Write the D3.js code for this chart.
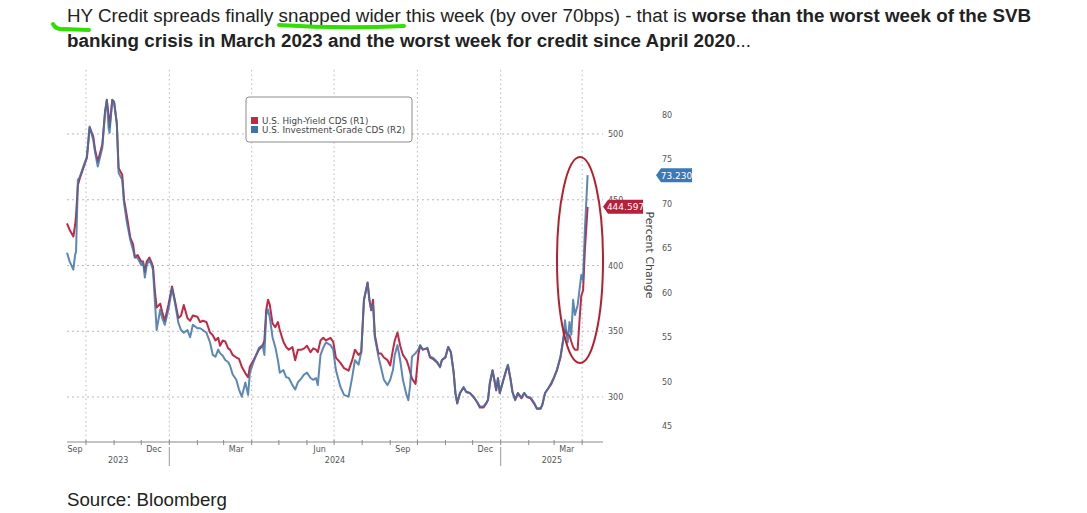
<!DOCTYPE html>
<html>
<head>
<meta charset="utf-8">
<script src="https://cdn.jsdelivr.net/npm/d3@7"></script>
<style>
  body { margin: 0; background: #fff; }
  svg { display: block; }
</style>
</head>
<body>
<svg id="chart" width="1087" height="513"></svg>
<script>
const dates = [
  "2023-09-10","2023-09-13","2023-09-17","2023-09-19","2023-09-20","2023-09-22","2023-09-24","2023-09-28",
  "2023-10-02","2023-10-05","2023-10-09","2023-10-11","2023-10-14","2023-10-19","2023-10-22","2023-10-24","2023-10-26","2023-10-27","2023-10-30",
  "2023-11-01","2023-11-04","2023-11-06","2023-11-10","2023-11-12","2023-11-15","2023-11-19","2023-11-22","2023-11-24","2023-11-27",
  "2023-12-01","2023-12-03","2023-12-05","2023-12-07","2023-12-10","2023-12-12","2023-12-14","2023-12-16","2023-12-18","2023-12-22","2023-12-24","2023-12-27","2023-12-31",
  "2024-01-04","2024-01-07","2024-01-11","2024-01-14","2024-01-17","2024-01-21","2024-01-24","2024-01-27",
  "2024-02-01","2024-02-04","2024-02-07","2024-02-11","2024-02-15","2024-02-18","2024-02-21","2024-02-24","2024-02-26","2024-02-29",
  "2024-03-03","2024-03-06","2024-03-08","2024-03-11","2024-03-15","2024-03-18","2024-03-21","2024-03-25","2024-03-28","2024-03-30",
  "2024-04-03","2024-04-06","2024-04-09","2024-04-13","2024-04-15","2024-04-17","2024-04-19","2024-04-21","2024-04-24","2024-04-27","2024-04-30",
  "2024-05-02","2024-05-06","2024-05-09","2024-05-12","2024-05-16","2024-05-19","2024-05-22","2024-05-26","2024-05-29",
  "2024-06-01","2024-06-05","2024-06-08","2024-06-11","2024-06-13","2024-06-16","2024-06-19","2024-06-22","2024-06-27","2024-06-30",
  "2024-07-03","2024-07-08","2024-07-12","2024-07-17","2024-07-21","2024-07-24","2024-07-28","2024-07-31",
  "2024-08-03","2024-08-07","2024-08-09","2024-08-11","2024-08-13","2024-08-15","2024-08-19","2024-08-22","2024-08-25","2024-08-29",
  "2024-09-01","2024-09-04","2024-09-06","2024-09-09","2024-09-12","2024-09-15","2024-09-19","2024-09-21","2024-09-23","2024-09-25","2024-09-29",
  "2024-10-02","2024-10-04","2024-10-07","2024-10-12","2024-10-15","2024-10-18","2024-10-23","2024-10-26","2024-10-28",
  "2024-11-01","2024-11-04","2024-11-07","2024-11-10","2024-11-12","2024-11-14","2024-11-17","2024-11-21","2024-11-24","2024-11-28",
  "2024-12-02","2024-12-06","2024-12-09","2024-12-13","2024-12-16","2024-12-18","2024-12-20","2024-12-23","2024-12-25","2024-12-27","2024-12-29","2024-12-31",
  "2025-01-04","2025-01-07","2025-01-09","2025-01-12","2025-01-14","2025-01-17","2025-01-20","2025-01-24","2025-01-27","2025-01-30",
  "2025-02-03","2025-02-07","2025-02-10","2025-02-14","2025-02-16","2025-02-19","2025-02-23","2025-02-26",
  "2025-03-01","2025-03-04","2025-03-08","2025-03-11","2025-03-13","2025-03-16","2025-03-18","2025-03-20","2025-03-22","2025-03-24","2025-03-27","2025-03-29","2025-03-31",
  "2025-04-02","2025-04-04","2025-04-07"
];

// U.S. High-Yield CDS, bps (R1)
const hySpread = [
  432,427,422,431,438,461,466,474,
  482,505,498,488,479,492,517,526,514,505,526,
  524,508,474,469,450,438,421,416,406,408,
  403,403,395,403,406,403,399,381,368,371,365,358,370,
  384,374,360,362,370,360,358,362,
  361,357,358,357,349,347,343,345,339,343,
  342,337,336,332,330,329,323,318,315,323,
  328,332,336,339,343,366,374,370,356,353,357,
  351,342,338,336,338,328,336,336,337,
  339,334,337,336,334,343,345,343,345,342,
  330,326,322,320,328,336,332,334,
  374,387,374,366,374,347,333,333,330,328,
  324,336,343,349,339,332,328,324,319,314,310,
  332,339,336,337,330,329,326,323,328,
  330,338,334,319,303,295,303,307,304,303,
  300,296,292,292,295,298,310,320,313,305,314,303,
  313,320,324,313,304,298,303,299,303,300,
  299,295,291,291,294,303,307,310,
  315,320,330,343,351,347,347,342,338,336,336,358,377,
  381,412,444.597
];

// U.S. Investment-Grade CDS, bps (R2)
const igSpread = [
  64.5,63.5,62.6,64.3,64.6,72.7,73.0,74.2,
  75.3,78.7,77.2,75.8,74.2,76.3,80.2,81.7,78.5,78.0,81.7,
  81.5,79.1,73.5,72.7,70.1,68.0,65.9,64.8,64.0,63.9,
  63.1,63.5,61.7,63.1,63.7,63.2,62.6,59.2,55.8,58.1,57.2,56.4,58.1,
  60.5,59.0,56.6,55.8,55.5,55.8,55.0,56.4,
  56.0,56.0,55.8,55.5,54.4,53.0,52.8,53.6,53.2,52.9,
  52.4,52.2,51.8,50.8,50.2,49.1,48.3,49.9,48.5,51.0,
  52.2,53.0,53.8,54.1,53.0,57.5,58.1,57.2,55.0,53.9,52.4,
  51.0,51.3,50.5,50.4,49.6,49.1,49.9,50.4,50.8,
  51.0,50.4,50.2,50.4,49.6,53.0,53.8,54.4,54.1,53.6,
  51.3,49.4,48.5,48.3,50.5,52.4,51.9,53.3,
  59.2,61.1,59.2,58.1,58.6,55.0,52.8,51.5,50.2,49.6,
  50.2,51.3,53.0,54.1,52.4,50.2,48.5,47.9,49.6,52.8,53.2,
  53.6,54.1,53.6,53.8,52.8,52.7,52.2,51.6,52.4,
  52.8,53.9,53.3,51.1,48.7,47.6,48.7,49.4,48.8,48.7,
  48.3,47.7,47.2,47.2,47.6,47.9,49.9,51.3,50.2,49.1,50.4,48.7,
  50.2,51.3,51.9,50.2,48.8,47.9,48.7,48.2,48.7,48.3,
  48.2,47.6,47.0,47.0,47.4,48.7,49.3,49.9,
  50.5,51.3,52.8,54.7,56.9,54.4,56.7,55.3,59.2,57.5,58.6,60.3,62.0,
  61.4,67.1,73.23
];

const hyTicks = [300, 350, 400, 450, 500];
const igTicks = [45, 50, 55, 60, 65, 70, 75, 80];
const monthLabels = [
  ["Sep", "2023-09-15"], ["Dec", "2023-12-15"], ["Mar", "2024-03-15"], ["Jun", "2024-06-15"],
  ["Sep", "2024-09-15"], ["Dec", "2024-12-15"], ["Mar", "2025-03-15"]
];
const yearLabels = ["2023", "2024", "2025"];
const seriesNames = ["U.S. High-Yield CDS (R1)", "U.S. Investment-Grade CDS (R2)"];
const lastHY = "444.597", lastIG = "73.230";

const parse = d3.timeParse("%Y-%m-%d");
const rows = dates.map((d, i) => ({date: parse(d), hy: hySpread[i], ig: igSpread[i]}));

const svg = d3.select("#chart");
const plot = {left: 67, right: 603, top: 70, bottom: 442};
const xStart = parse("2023-09-10"), xEnd = parse("2025-04-24");

const x = d3.scaleTime().domain([xStart, xEnd]).range([plot.left, plot.right]);
const yHY = d3.scaleLinear().domain([300, 500]).range([397, 134]);
const yIG = d3.scaleLinear().domain([45, 80]).range([426, 115]);

const red = "#c02a45", blue = "#3e73a8", grid = "#b9b9b9", axisTxt = "#555";
const tickFont = "'DejaVu Sans', Tahoma, sans-serif";

// ---- title
const title = svg.append("text").attr("font-family", "Liberation Sans, Arial, sans-serif")
  .attr("font-size", 18.8).attr("fill", "#222");
title.append("tspan").attr("x", 67).attr("y", 22)
  .text("HY Credit spreads finally snapped wider this week (by over 70bps) - that is ");
title.append("tspan").attr("font-weight", "bold").text("worse than the worst week of the SVB");
title.append("tspan").attr("x", 67).attr("y", 47).attr("font-weight", "bold")
  .text("banking crisis in March 2023 and the worst week for credit since April 2020");
title.append("tspan").text("...");

// green highlighter marks
const marker = svg.append("g").attr("fill", "none").attr("stroke", "#2fe000")
  .attr("stroke-width", 4).attr("stroke-linecap", "round");
marker.append("path").attr("d", "M53,24 Q56,30 64,29 L89,30");
marker.append("path").attr("d", "M279,25 Q340,29 404,26");

// ---- gridlines
const quarterTicks = d3.timeMonth.every(3).range(parse("2023-10-01"), parse("2025-04-02"));
svg.append("g").selectAll("line").data(quarterTicks).join("line")
  .attr("x1", d => x(d)).attr("x2", d => x(d))
  .attr("y1", plot.top).attr("y2", plot.bottom)
  .attr("stroke", grid).attr("stroke-dasharray", "1.5,3");
svg.append("g").selectAll("line").data(hyTicks).join("line")
  .attr("x1", plot.left).attr("x2", plot.right)
  .attr("y1", d => yHY(d)).attr("y2", d => yHY(d))
  .attr("stroke", grid).attr("stroke-dasharray", "2,3");

// ---- x axis
svg.append("line").attr("x1", plot.left).attr("x2", plot.right)
  .attr("y1", plot.bottom).attr("y2", plot.bottom).attr("stroke", "#8a8a8a");
const monthTicks = d3.timeMonth.range(parse("2023-10-01"), parse("2025-04-02"));
svg.append("g").selectAll("line").data(monthTicks).join("line")
  .attr("x1", d => x(d)).attr("x2", d => x(d))
  .attr("y1", plot.bottom - 2).attr("y2", plot.bottom + 3)
  .attr("stroke", "#8a8a8a");
svg.append("g").attr("font-family", tickFont).attr("font-size", 8).attr("fill", axisTxt)
  .selectAll("text").data(monthLabels).join("text")
  .attr("x", d => Math.max(x(parse(d[1])), plot.left + 8))
  .attr("y", 452).attr("text-anchor", "middle").text(d => d[0]);
const yearSpan = yearLabels.map(y => {
  const a = d3.max([parse(y + "-01-01"), xStart]);
  const b = d3.min([parse((+y + 1) + "-01-01"), xEnd]);
  return {label: y, mid: (x(a) + x(b)) / 2};
});
svg.append("g").attr("font-family", tickFont).attr("font-size", 8).attr("fill", axisTxt)
  .selectAll("text").data(yearSpan).join("text")
  .attr("x", d => d.mid).attr("y", 463).attr("text-anchor", "middle").text(d => d.label);
svg.append("g").selectAll("line").data(["2024-01-01", "2025-01-01"]).join("line")
  .attr("x1", d => x(parse(d))).attr("x2", d => x(parse(d)))
  .attr("y1", 447).attr("y2", 466).attr("stroke", "#999");

// ---- right axes
svg.append("g").attr("font-family", tickFont).attr("font-size", 8).attr("fill", axisTxt)
  .selectAll("text").data(hyTicks).join("text")
  .attr("x", 608).attr("y", d => yHY(d) + 3).text(d => d);
svg.append("g").attr("font-family", tickFont).attr("font-size", 8).attr("fill", axisTxt)
  .selectAll("text").data(igTicks).join("text")
  .attr("x", 662).attr("y", d => yIG(d) + 3).text(d => d);
svg.append("text").attr("transform", "translate(646,255) rotate(90)")
  .attr("text-anchor", "middle").attr("font-family", tickFont).attr("font-size", 11)
  .attr("fill", "#444").text("Percent Change");

// ---- lines
const lineHY = d3.line().x(d => x(d.date)).y(d => yHY(d.hy));
const lineIG = d3.line().x(d => x(d.date)).y(d => yIG(d.ig));
svg.append("path").datum(rows).attr("d", lineHY).attr("fill", "none")
  .attr("stroke", red).attr("stroke-width", 2).attr("stroke-linejoin", "round");
svg.append("path").datum(rows).attr("d", lineIG).attr("fill", "none")
  .attr("stroke", blue).attr("stroke-width", 2).attr("stroke-linejoin", "round")
  .attr("stroke-opacity", 0.85);

// ---- last value tags
function tag(xLeft, yMid, w, fill, label) {
  const g = svg.append("g");
  g.append("path")
    .attr("d", `M${xLeft},${yMid} L${xLeft + 5},${yMid - 7} L${xLeft + w},${yMid - 7} L${xLeft + w},${yMid + 7} L${xLeft + 5},${yMid + 7} Z`)
    .attr("fill", fill);
  g.append("text").attr("x", xLeft + 5 + (w - 5) / 2).attr("y", yMid + 3.5)
    .attr("text-anchor", "middle").attr("font-family", tickFont).attr("font-size", 9)
    .attr("fill", "#fff").text(label);
}
tag(603, yHY(+lastHY), 40, "#b5203a", lastHY);
tag(656, yIG(+lastIG), 36, "#3a78b8", lastIG);

// ---- legend
const leg = svg.append("g").attr("transform", "translate(246,97)");
leg.append("rect").attr("width", 166).attr("height", 45).attr("rx", 3)
  .attr("fill", "#fff").attr("stroke", "#8c8c8c");
[red, blue].forEach((c, i) => {
  leg.append("rect").attr("x", 5).attr("y", 20 + i * 9).attr("width", 7).attr("height", 7).attr("fill", c);
  leg.append("text").attr("x", 16).attr("y", 27 + i * 9).attr("font-family", tickFont)
    .attr("font-size", 8.8).attr("fill", "#444").text(seriesNames[i]);
});

// ---- annotation ellipse
svg.append("ellipse").attr("cx", 580).attr("cy", 260).attr("rx", 23).attr("ry", 103)
  .attr("fill", "none").attr("stroke", "#b3212f").attr("stroke-width", 2);

// ---- source
svg.append("text").attr("x", 67).attr("y", 506).attr("font-family", "Liberation Sans, Arial, sans-serif")
  .attr("font-size", 18.7).attr("fill", "#222").text("Source: Bloomberg");
</script>
</body>
</html>
